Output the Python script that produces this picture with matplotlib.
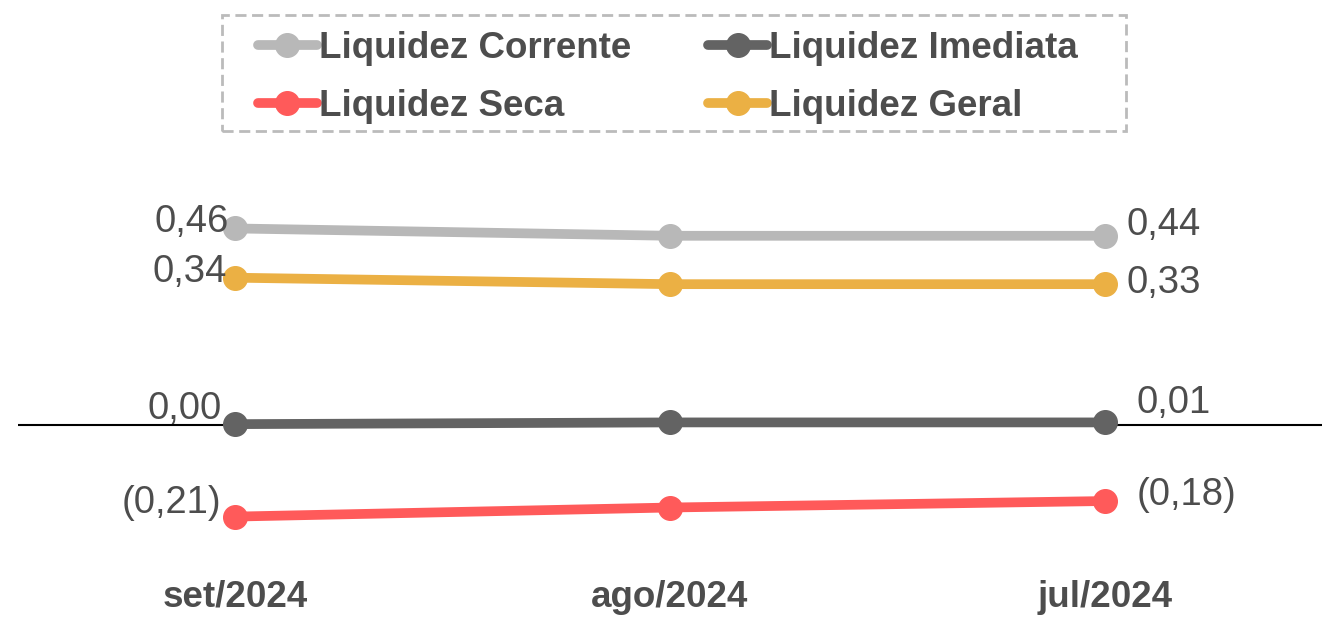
import matplotlib
matplotlib.use("Agg")
import matplotlib.pyplot as plt
from matplotlib.patches import Rectangle

plt.rcParams['font.family'] = ['Liberation Sans', 'DejaVu Sans']

months = ["set/2024", "ago/2024", "jul/2024"]
corrente = [0.455, 0.438, 0.438]
imediata = [0.002, 0.006, 0.006]
seca = [-0.212, -0.191, -0.176]
geral = [0.341, 0.326, 0.326]

corrente_lbl = ["0,46", "", "0,44"]
imediata_lbl = ["0,00", "", "0,01"]
seca_lbl = ["(0,21)", "", "(0,18)"]
geral_lbl = ["0,34", "", "0,33"]

text_color = "#4d4d4d"
W, H = 1322, 618

fig = plt.figure(figsize=(W / 100, H / 100), dpi=100)
ax = fig.add_axes([18 / W, 1 - 560 / H, 1 - 18 / W, 390 / H])

x = list(range(len(months)))
series = [
    ("Liquidez Corrente", corrente, corrente_lbl, "#b8b8b8", [(-5, 5), (16, 8)]),
    ("Liquidez Imediata", imediata, imediata_lbl, "#636363", [(-10, 11), (23, 14)]),
    ("Liquidez Seca", seca, seca_lbl, "#ff5a5a", [(-10, 10), (23, 4)]),
    ("Liquidez Geral", geral, geral_lbl, "#ebb044", [(-6, 4), (16, 1)]),
]

ax.axhline(0, color="black", lw=1.5, zorder=1)

for name, vals, lbls, color, offs in series:
    ax.plot(x, vals, color=color, lw=7, marker="o", markersize=17,
            solid_capstyle="round", label=name, zorder=3)
    ax.annotate(lbls[0], (x[0], vals[0]), xytext=offs[0], textcoords="offset points",
                ha="right", va="center", fontsize=27.5, color=text_color)
    ax.annotate(lbls[-1], (x[-1], vals[-1]), xytext=offs[1], textcoords="offset points",
                ha="left", va="center", fontsize=27.5, color=text_color)

for i, m in enumerate(months):
    ax.text(i, -0.12, m, transform=ax.get_xaxis_transform(), ha="center",
            va="baseline", fontsize=26.5, fontweight="bold", color=text_color)

ax.set_xlim(-0.5, 2.5)
ax.set_ylim(-0.3125, 0.5903)
ax.set_xticks([])
ax.set_yticks([])
for s in ax.spines.values():
    s.set_visible(False)

handles, labels = ax.get_legend_handles_labels()
order = [0, 2, 1, 3]
leg = fig.legend([handles[i] for i in order], [labels[i] for i in order],
                 loc="upper left", bbox_to_anchor=(258 / W, 1 - 31 / H),
                 ncol=2, frameon=False,
                 prop={"weight": "bold", "size": 26.5},
                 handlelength=1.6, handletextpad=0.05, columnspacing=2.1,
                 labelspacing=0.62, borderpad=0, borderaxespad=0)
for t in leg.get_texts():
    t.set_color(text_color)

# dashed box round the legend
fig.patches.append(Rectangle((222 / W, 1 - 131 / H), (1126 - 222) / W, 116 / H,
                             transform=fig.transFigure, fill=False,
                             edgecolor="#bbbbbb", linewidth=2,
                             linestyle=(0, (4, 2))))

fig.savefig("out.png", dpi=100)
